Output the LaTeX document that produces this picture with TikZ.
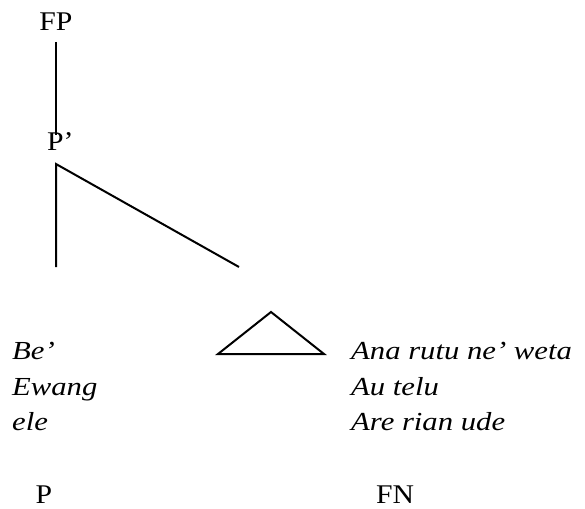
\documentclass[tikz,border=0pt]{standalone}
\usepackage{fontspec}
\setmainfont{Liberation Serif}
\newfontfamily\labfont[FakeStretch=1.1]{Liberation Serif}
\newfontfamily\exfont[FakeStretch=1.18]{Liberation Serif}
\begin{document}
\begin{tikzpicture}[x=1pt,y=-1pt,
  lab/.style={inner sep=0pt, font=\fontsize{27}{30}\labfont},
  ex/.style={inner sep=0pt, anchor=base west, font=\fontsize{26}{30}\exfont\itshape},
  branch/.style={line width=2pt}]
\useasboundingbox (0,0) rectangle (585,508);
% labels
\node[lab, anchor=base] (fp) at (56,31) {FP};
\node[lab, anchor=base west] (pp) at (47,150) {P’};
\node[lab, anchor=base] (p) at (44,503) {P};
\node[lab, anchor=base] (fn) at (395,503) {FN};
% tree
\coordinate (fpfoot) at (56,42);
\coordinate (ppfoot) at (56,135);
\coordinate (corner) at (56,164);
\coordinate (leftend) at (56,267);
\coordinate (rightend) at (239,267);
\draw[branch] (fpfoot) -- (ppfoot);
\draw[branch] (leftend) -- (corner) -- (rightend);
% triangle
\coordinate (apex) at (271,312);
\coordinate (bl) at (218,354);
\coordinate (br) at (324,354);
\draw[branch, line join=miter] (apex) -- (bl) -- (br) -- cycle;
% examples
\node[ex] (l1) at (12,359) {Be’};
\node[ex] (l2) at (12,395) {Ewang};
\node[ex] (l3) at (12,430) {ele};
\node[ex] (r1) at (351,359) {Ana rutu ne’ weta};
\node[ex] (r2) at (351,395) {Au telu};
\node[ex] (r3) at (351,430) {Are rian ude};
\end{tikzpicture}
\end{document}
